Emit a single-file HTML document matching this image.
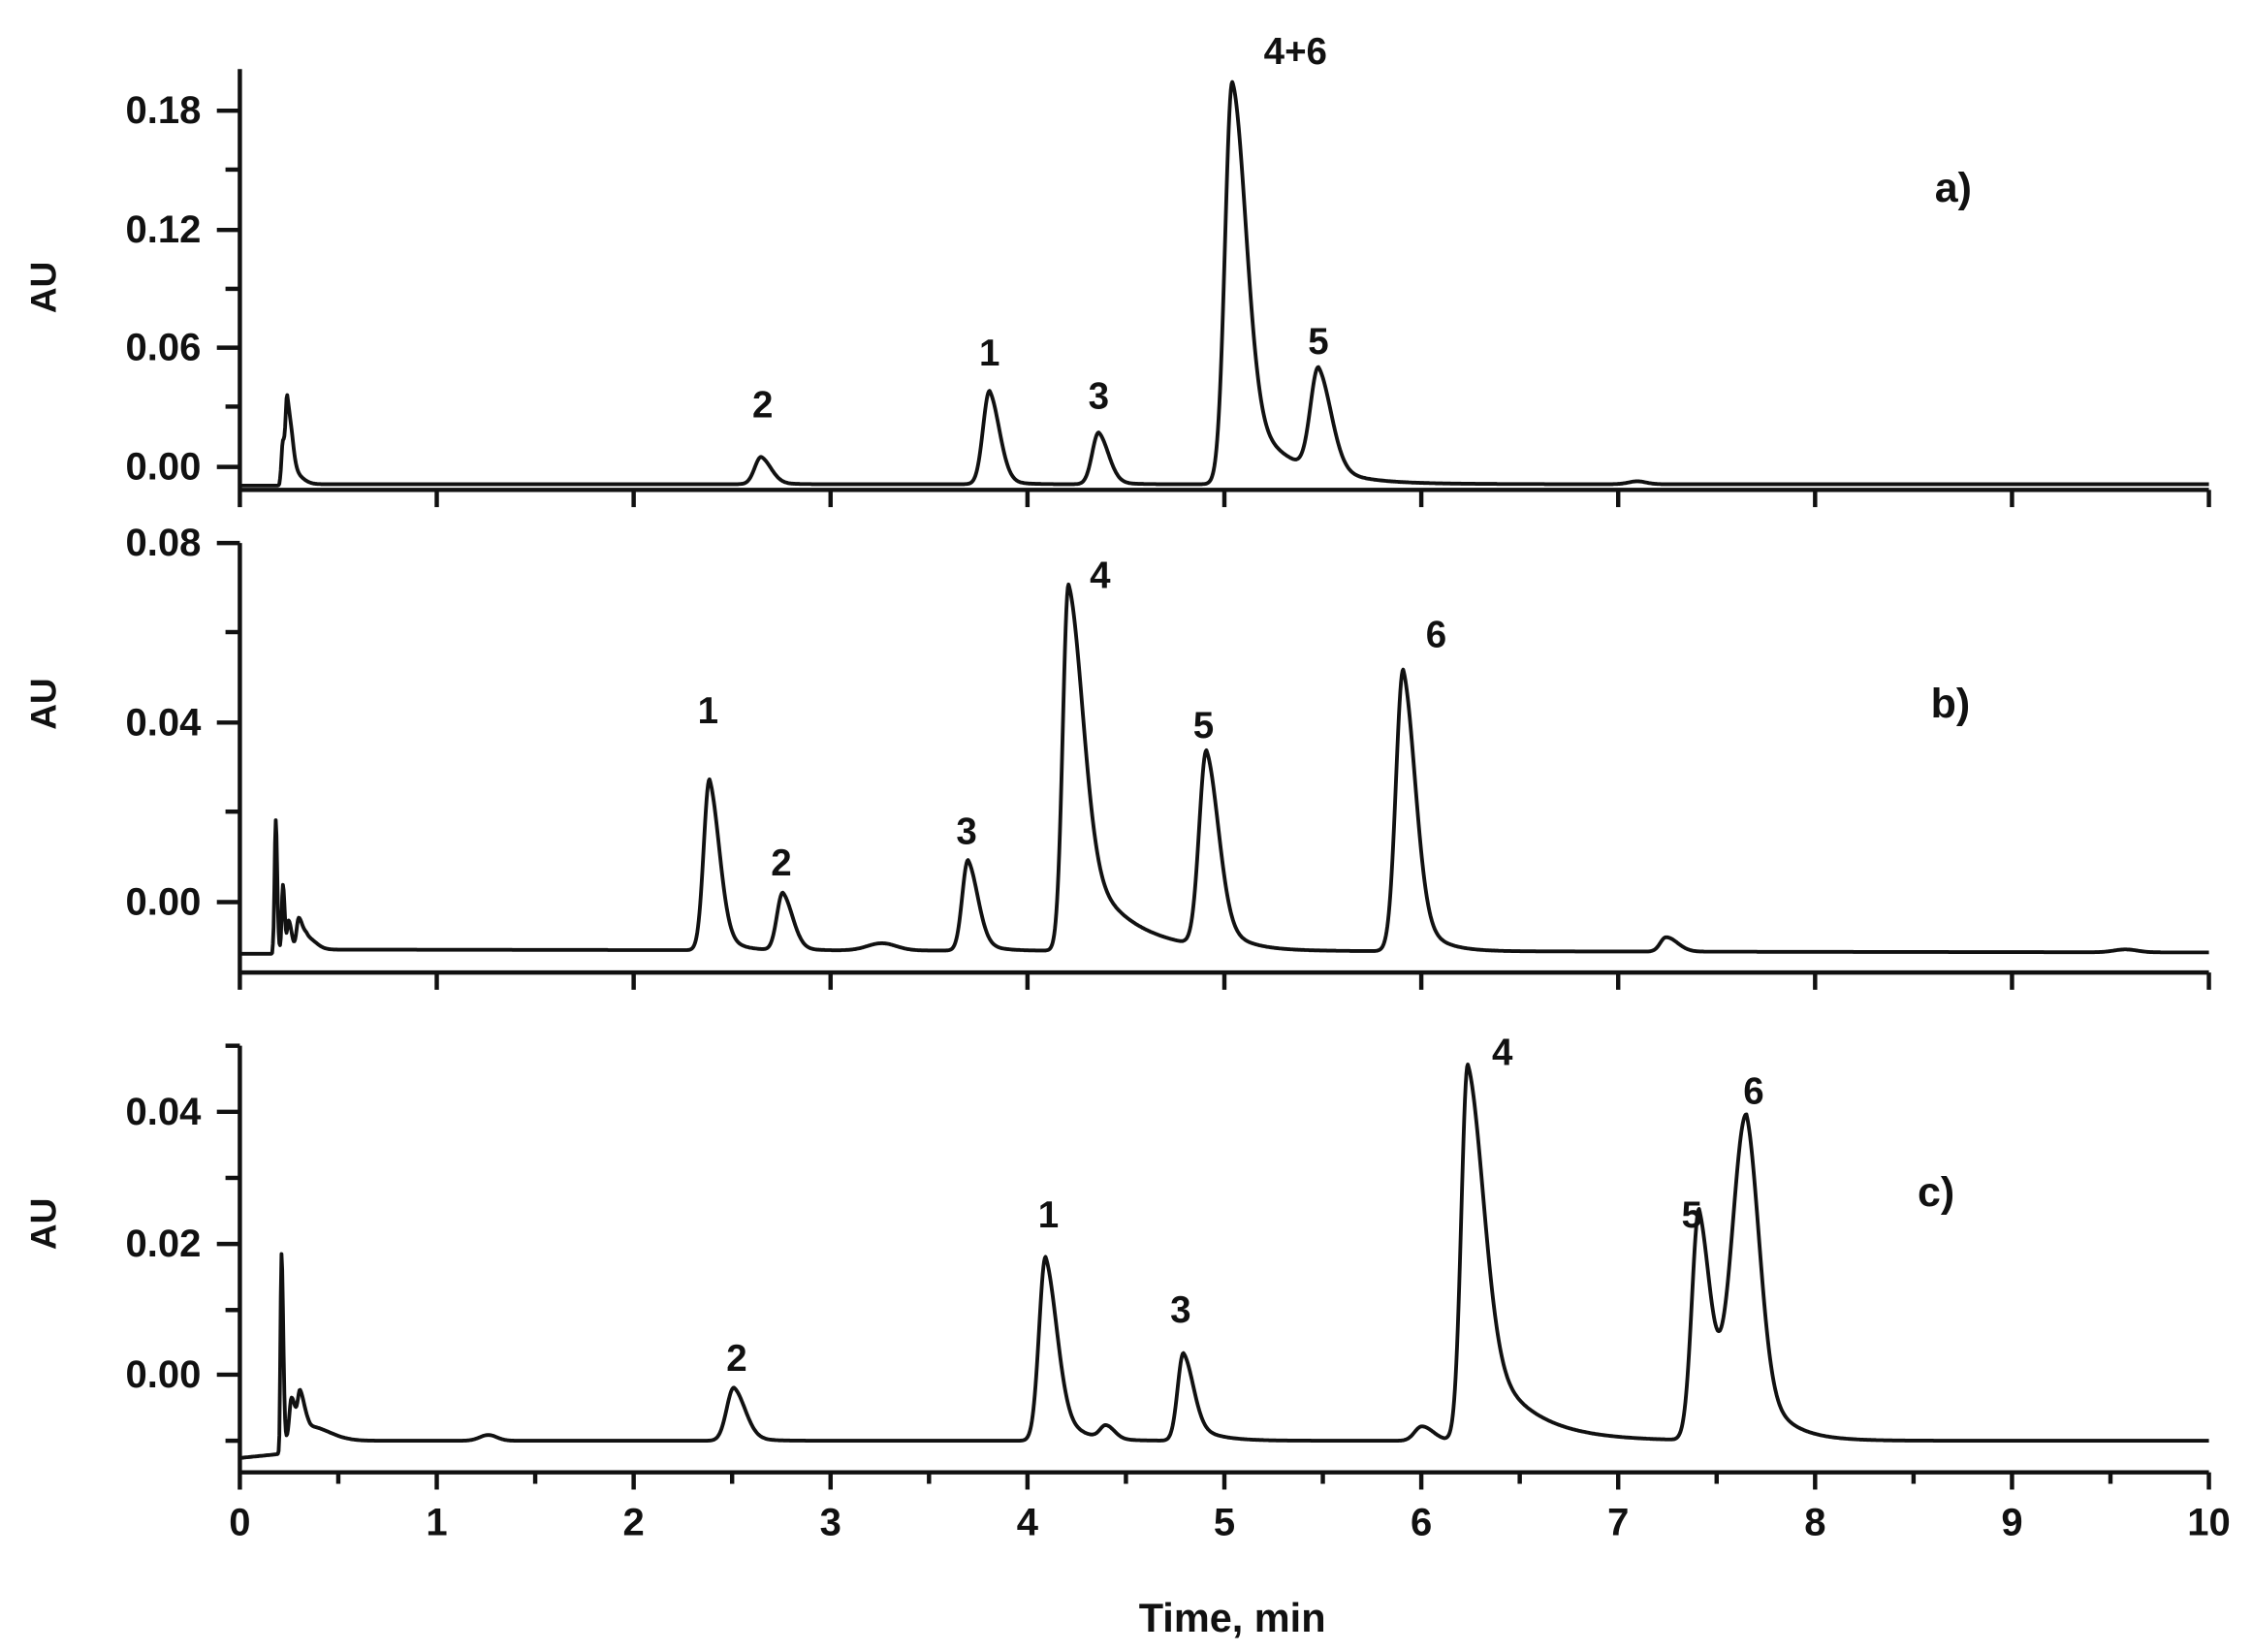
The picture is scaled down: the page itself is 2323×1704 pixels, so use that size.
<!DOCTYPE html>
<html><head><meta charset="utf-8">
<style>html,body{margin:0;padding:0;background:#fff;}svg{display:block}</style>
</head><body>
<svg id="s" width="2323" height="1704" viewBox="0 0 1568 1150" xmlns="http://www.w3.org/2000/svg" font-family="'Liberation Sans', Arial, sans-serif" font-weight="bold">
<rect width="1568" height="1150" fill="#fff"/>
<g id="axes" stroke="#111" stroke-width="3" fill="none"></g>
<g id="curves" stroke="#111" stroke-width="2.6" fill="none" stroke-linejoin="round"></g>
<g fill="#111" font-size="27">
<text x="140" y="77" text-anchor="end" dominant-baseline="central">0.18</text>
<text x="140" y="160" text-anchor="end" dominant-baseline="central">0.12</text>
<text x="140" y="242" text-anchor="end" dominant-baseline="central">0.06</text>
<text x="140" y="325" text-anchor="end" dominant-baseline="central">0.00</text>
<text x="140" y="378" text-anchor="end" dominant-baseline="central">0.08</text>
<text x="140" y="503" text-anchor="end" dominant-baseline="central">0.04</text>
<text x="140" y="628" text-anchor="end" dominant-baseline="central">0.00</text>
<text x="140" y="774" text-anchor="end" dominant-baseline="central">0.04</text>
<text x="140" y="866" text-anchor="end" dominant-baseline="central">0.02</text>
<text x="140" y="957" text-anchor="end" dominant-baseline="central">0.00</text>
<text transform="translate(30,200) rotate(-90)" text-anchor="middle" dominant-baseline="central" font-size="25">AU</text>
<text transform="translate(30,490) rotate(-90)" text-anchor="middle" dominant-baseline="central" font-size="25">AU</text>
<text transform="translate(30,852) rotate(-90)" text-anchor="middle" dominant-baseline="central" font-size="25">AU</text>
<g id="xl" text-anchor="middle" dominant-baseline="central" font-size="27"></g>
<text x="858" y="1126" text-anchor="middle" dominant-baseline="central" font-size="28">Time, min</text>
<text x="1360" y="131" text-anchor="middle" dominant-baseline="central" font-size="29">a)</text>
<text x="1358" y="490" text-anchor="middle" dominant-baseline="central" font-size="29">b)</text>
<text x="1348" y="830" text-anchor="middle" dominant-baseline="central" font-size="29">c)</text>
<g text-anchor="middle" dominant-baseline="central" font-size="26">
<text x="531" y="282">2</text><text x="689" y="246">1</text><text x="765" y="276">3</text>
<text x="902" y="36">4+6</text><text x="918" y="238">5</text>
<text x="493" y="495">1</text><text x="544" y="601">2</text><text x="673" y="579">3</text>
<text x="766" y="401">4</text><text x="838" y="505">5</text><text x="1000" y="442">6</text>
<text x="513" y="946">2</text><text x="730" y="846">1</text><text x="822" y="912">3</text>
<text x="1046" y="733">4</text><text x="1178" y="846">5</text><text x="1221" y="760">6</text>
</g>
</g>
</svg>
<script>
var NS="http://www.w3.org/2000/svg";
function el(p,t,a){var e=document.createElementNS(NS,t);for(var k in a)e.setAttribute(k,a[k]);p.appendChild(e);return e;}
var ax=document.getElementById('axes'),cv=document.getElementById('curves'),xl=document.getElementById('xl');
var X0=167,X1=1538,PX=(X1-X0)/10;
function line(x1,y1,x2,y2){el(ax,'line',{x1:x1,y1:y1,x2:x2,y2:y2});}
var panels=[{t:48,b:341,maj:[77,160,242,325],min:[118,201,283]},
{t:378,b:677,maj:[378,503,628],min:[440,565]},
{t:728,b:1025,maj:[774,866,957],min:[728,820,912,1003]}];
panels.forEach(function(p,i){
 line(X0,p.t,X0,p.b+12);
 line(X0,p.b,X1,p.b);
 p.maj.forEach(function(y){line(X0-16,y,X0,y);});
 p.min.forEach(function(y){line(X0-10,y,X0,y);});
 for(var k=1;k<=10;k++){var x=X0+k*PX;line(x,p.b,x,p.b+12);}
 if(i==2){for(var k=0;k<10;k++){var x=X0+(k+0.5)*PX;line(x,p.b,x,p.b+8);}}
});
for(var k=0;k<=10;k++){var t=el(xl,'text',{x:X0+k*PX,y:1060});t.textContent=k;}
function f(p,x){var dx=x-p[0];
 if(dx<0)return Math.exp(-dx*dx/(2*p[2]*p[2]));
 var w=p[4]||0,tau=p[5]||1;
 return (1-w)*Math.exp(-dx*dx/(2*p[3]*p[3]))+w*Math.exp(-dx/tau);}
function curve(base,peaks,x0,x1){
 var d='';
 for(var x=x0;x<=x1;x+=0.5){
  var y=base(x);
  peaks.forEach(function(p){y-=p[1]*f(p,x);});
  d+=(d?'L':'M')+x.toFixed(1)+' '+y.toFixed(1);
 }
 el(cv,'path',{d:d});
}
// panel a
curve(function(x){return x<195?338:337;},[
[197,30,1,2],[200,52,1,3],[204,8,1.5,6],[530,19,4.5,7,0.2,8],[689,65,4.5,7,0.2,8],[765,36,4.5,7,0.2,8],
[858,280,5,9.5,0.25,30],[918,72,5.5,9,0.2,12],[1140,2,6,6]],168,1538);
// panel b
curve(function(x){return x<190?664:661+(x-190)*0.0015;},[
[192,90,0.8,1],[197,45,0.8,1.2],[201,20,1,2],[208,22,1.5,3],[214,8,2,6],
[494,119,4,7,0.25,10],[545,40,4,7,0.2,8],[614,5,10,10],[674,63,4,7,0.25,10],
[744,255,4,10,0.35,30],[840,136,5,8.5,0.25,15],[977,196,5,8.5,0.25,14],[1160,10,4,8],[1480,2,8,8]],168,1538);
// panel c
curve(function(x){return x<195?1015-(x-167)*0.1:1003;},[
[196,130,0.7,1.2],[203,30,1.5,3],[209,30,1.6,3],[215,10,3,14],[340,4,6,6],
[511,37,5,8,0.2,10],[728,128,4.5,8,0.3,14],[770,9,4,6],[824,61,4,7,0.3,15],
[990,10,5,8],[1022,262,4.5,11,0.35,30],[1183,160,5,8,0.3,12],[1216,224,10,9,0.3,18]],168,1538);
</script>
</body></html>
